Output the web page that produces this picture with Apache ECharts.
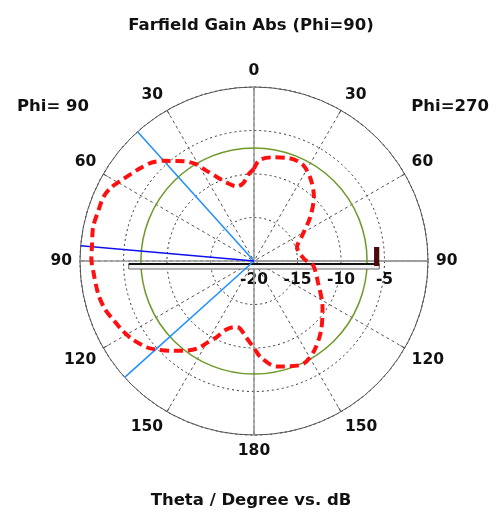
<!DOCTYPE html>
<html><head><meta charset="utf-8">
<script src="https://cdn.jsdelivr.net/npm/echarts@6/dist/echarts.min.js"></script>
<style>html,body{margin:0;padding:0;background:#fff}#c{width:502px;height:512px}</style>
</head><body><div id="c"></div>
<script>
// Angles: degrees counter-clockwise from the top.
// 0..180 = Theta on the Phi=90 side (left), 180..360 = 360-Theta on the Phi=270 side (right)
const curveAngles = [0,4,8,13,19,24,28,31,35,39,42,46,51,55,59,63,67,72,78,85,89,94,102,108,113,118,123,129,132,137,142,147,150,154,158,164,168,174,180,184,192,199,206,214,224,236,251,266,272,288,297,308,317,325,333,341,350,357,360];
const curveGain   = [-9.4,-10.1,-11.0,-11.2,-10.5,-9.4,-8.2,-7.0,-6.0,-5.2,-4.5,-3.7,-3.1,-2.65,-2.1,-1.5,-1.2,-1.2,-1.1,-1.3,-1.3,-1.5,-1.7,-2.0,-2.5,-2.9,-3.4,-4.2,-4.8,-5.9,-6.9,-8.0,-9.1,-10.3,-11.5,-12.1,-12.1,-11.2,-10.0,-8.9,-7.6,-7.2,-6.9,-7.6,-8.9,-10.5,-12.2,-13.2,-14.2,-14.8,-13.85,-11.8,-9.9,-8.6,-7.6,-7.5,-7.9,-8.4,-9.4];
const mainLobeDir = 85;
const beamEdges = [42, 132];
const refLevel = -7.0;
const markerLevel = -5.6;
const markerBarStart = -6.2;
const crossAngles = [0, 90, 180, 270];
const rMin = -20, rMax = 0, rStep = 5;

const toV = a => (a + 90) % 360;
const chart = echarts.init(document.getElementById('c'));
const FONT = 'DejaVu Sans';

function radialLine(a, color, width, z) {
  return { type: 'line', coordinateSystem: 'polar', data: [[rMin, toV(a)], [rMax, toV(a)]],
    symbol: 'none', silent: true, z: z, lineStyle: { color: color, width: width }, animation: false };
}

const series = [];
crossAngles.forEach(a => series.push(radialLine(a, '#9a9a9a', 1.5, 2)));
// reference circle
series.push({
  type: 'custom', coordinateSystem: 'polar', data: [[refLevel, 0]], z: 3, silent: true, animation: false,
  renderItem: (params, api) => {
    const c = api.coord([rMin, 0]);
    const p = api.coord([api.value(0), 0]);
    const r = Math.hypot(p[0] - c[0], p[1] - c[1]);
    return { type: 'circle', shape: { cx: c[0], cy: c[1], r: r },
      style: { fill: null, stroke: '#6f9a2a', lineWidth: 1.5 } };
  }
});
// marker bar
series.push({
  type: 'custom', coordinateSystem: 'polar', data: [[markerLevel, markerBarStart]], z: 4, silent: true, animation: false,
  renderItem: (params, api) => {
    const L = api.coord([api.value(0), 180]);
    const R = api.coord([api.value(0), 0]);
    const B = api.coord([api.value(1), 0]);
    return { type: 'group', children: [
      { type: 'rect', shape: { x: L[0], y: L[1] + 3, width: R[0] - L[0], height: 5 },
        style: { fill: '#f2f2f2', stroke: '#666', lineWidth: 1 } },
      { type: 'line', shape: { x1: L[0], y1: L[1] + 3, x2: R[0], y2: R[1] + 3 },
        style: { stroke: '#111', lineWidth: 1.8 } },
      { type: 'rect', shape: { x: B[0], y: B[1] - 14, width: R[0] - B[0], height: 19 },
        style: { fill: '#4a0a0a' } }
    ]};
  }
});
beamEdges.forEach(a => series.push(radialLine(a, '#1e8fff', 1.5, 5)));
series.push(radialLine(mainLobeDir, '#1010ee', 1.5, 5));
series.push({
  type: 'line', coordinateSystem: 'polar', symbol: 'none', smooth: 0.3, z: 10, animation: false,
  data: curveAngles.map((a, i) => [curveGain[i], toV(a)]),
  lineStyle: { color: '#ff1010', width: 4, type: [9, 5] }
});

const titleStyle = { fontFamily: FONT, fontWeight: 'bold', fontSize: 16.5, color: '#111' };
chart.setOption({
  animation: false,
  backgroundColor: '#fff',
  title: [
    { text: 'Farfield Gain Abs (Phi=90)', left: 'center', top: 12, textStyle: titleStyle },
    { text: 'Phi= 90', left: 12, top: 93, textStyle: titleStyle },
    { text: 'Phi=270', right: 8, top: 93, textStyle: titleStyle },
    { text: 'Theta / Degree vs. dB', left: 'center', top: 487, textStyle: titleStyle }
  ],
  polar: { center: [254, 261], radius: 174 },
  angleAxis: {
    type: 'value', min: 0, max: 360, interval: 30, startAngle: 0, clockwise: false,
    axisLine: { lineStyle: { color: '#555', width: 1 } },
    axisTick: { show: true, inside: true, length: 5, lineStyle: { color: '#555' } },
    axisLabel: { margin: 8, fontFamily: FONT, fontWeight: 'bold', fontSize: 15.5, color: '#111',
      formatter: v => { let t = ((v - 90) % 360 + 360) % 360; if (t > 180) t = 360 - t; return String(t); } },
    splitLine: { show: true, lineStyle: { color: '#555', width: 1, type: [3, 3] } }
  },
  radiusAxis: {
    type: 'value', min: rMin, max: rMax, interval: rStep,
    axisLine: { show: true, lineStyle: { color: '#9a9a9a', width: 1.5 } },
    axisTick: { show: false },
    axisLabel: { margin: -27, fontFamily: FONT, fontWeight: 'bold', fontSize: 15.5, color: '#111',
      formatter: v => v === rMax ? '' : String(v) },
    splitLine: { show: true, lineStyle: { color: '#333', width: 1, type: [2, 3] } }
  },
  series: series
});
</script></body></html>
